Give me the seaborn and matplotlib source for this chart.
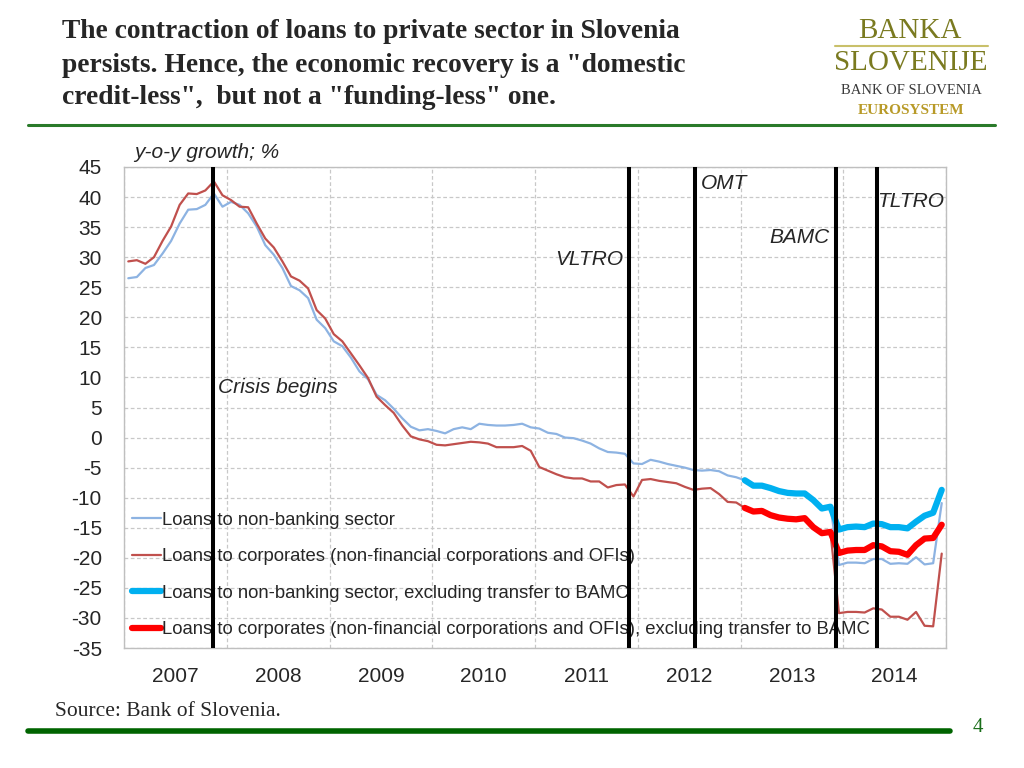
import numpy as np
import pandas as pd
import seaborn as sns
import matplotlib.pyplot as plt
from matplotlib.lines import Line2D

# y-o-y growth in %, monthly Jan 2007 - Dec 2014
months = pd.date_range("2007-01-01", "2014-12-01", freq="MS")
non_bank = [26.5, 26.7, 28.2, 28.7, 30.6, 32.7, 35.6, 37.9, 38.0, 38.7, 40.6, 38.4,
            39.2, 38.7, 37.3, 35.1, 32.0, 30.4, 28.2, 25.2, 24.5, 23.2, 19.6, 18.2,
            16.0, 15.2, 13.3, 11.0, 9.7, 7.1, 6.2, 4.8, 3.2, 1.8, 1.2, 1.4,
            1.1, 0.7, 1.4, 1.7, 1.4, 2.3, 2.1, 2.0, 2.0, 2.1, 2.3, 1.7,
            1.5, 0.8, 0.6, 0.0, -0.1, -0.5, -1.0, -1.8, -2.4, -2.5, -2.7, -4.3,
            -4.4, -3.7, -4.0, -4.4, -4.7, -5.0, -5.4, -5.5, -5.4, -5.6, -6.3, -6.6,
            -7.1, -8.0, -8.0, -8.4, -8.9, -9.2, -9.3, -9.3, -10.4, -11.8, -11.5, -21.2,
            -20.8, -20.8, -20.9, -20.2, -20.2, -21.0, -20.9, -21.0, -19.9, -21.1, -20.9, -10.9]
corporates = [29.3, 29.5, 28.9, 30.0, 32.7, 35.1, 38.7, 40.6, 40.5, 41.1, 42.6, 40.3,
              39.5, 38.4, 38.3, 35.6, 33.1, 31.6, 29.3, 26.8, 26.1, 24.8, 21.2, 19.8,
              17.2, 16.0, 14.0, 12.0, 9.9, 6.8, 5.4, 4.1, 2.0, 0.2, -0.3, -0.6,
              -1.2, -1.3, -1.1, -0.9, -0.7, -0.8, -1.0, -1.6, -1.6, -1.6, -1.4, -2.2,
              -4.9, -5.5, -6.1, -6.6, -6.8, -6.8, -7.3, -7.3, -8.3, -7.9, -7.8, -9.8,
              -7.05, -6.9, -7.2, -7.4, -7.6, -8.2, -8.7, -8.5, -8.4, -9.4, -10.7, -10.8,
              -11.7, -12.3, -12.2, -12.9, -13.3, -13.5, -13.6, -13.4, -14.9, -15.9, -15.7, -29.2,
              -29.0, -29.0, -29.1, -28.4, -28.6, -29.8, -29.8, -30.3, -29.0, -31.3, -31.4, -19.3]

# excluding transfer to BAMC, Jan 2013 - Dec 2014
months_ex = pd.date_range("2013-01-01", "2014-12-01", freq="MS")
non_bank_ex = [-7.1, -8.0, -8.0, -8.4, -8.9, -9.2, -9.3, -9.3, -10.4, -11.8, -11.5, -15.3,
               -14.9, -14.8, -14.9, -14.3, -14.4, -14.9, -14.9, -15.1, -14.0, -13.0, -12.5, -8.7]
corporates_ex = [-11.7, -12.3, -12.2, -12.9, -13.3, -13.5, -13.6, -13.4, -14.9, -15.9, -15.7, -19.2,
                 -18.8, -18.7, -18.7, -17.9, -18.1, -18.9, -19.0, -19.5, -17.9, -16.8, -16.7, -14.5]

labels = ["Loans to non-banking sector",
          "Loans to corporates (non-financial corporations and OFIs)",
          "Loans to non-banking sector, excluding transfer to BAMC",
          "Loans to corporates (non-financial corporations and OFIs), excluding transfer to BAMC"]

event_names = ["Crisis begins", "VLTRO", "OMT", "BAMC", "TLTRO"]
event_dates = [2007.87, 2011.91, 2012.56, 2013.93, 2014.33]

years = list(range(2007, 2015))


def dec_year(idx):
    return idx.year + (idx.month - 0.5) / 12


sns.set_style("white")
plt.rcParams['font.family'] = ['Liberation Sans', 'DejaVu Sans']
plt.rcParams['axes.unicode_minus'] = False

fig = plt.figure(figsize=(10.24, 7.68), dpi=100)
ax = fig.add_axes([124 / 1024, 1 - 648 / 768, 822 / 1024, 481 / 768])

x = dec_year(months)
x_ex = dec_year(months_ex)
sns.lineplot(x=x, y=non_bank, color="#8db3e2", lw=1.6, ax=ax, label=labels[0])
sns.lineplot(x=x, y=corporates, color="#c0504d", lw=1.6, ax=ax, label=labels[1])
sns.lineplot(x=x_ex, y=non_bank_ex, color="#00b0f0", lw=4.5, ax=ax, label=labels[2])
sns.lineplot(x=x_ex, y=corporates_ex, color="#ff0000", lw=4.5, ax=ax, label=labels[3])

for d in event_dates:
    ax.axvline(d, color="black", lw=2.9, zorder=6)

# event labels: (x, y, ha)
lab_pos = [(2007.915, 8.3, "left"), (2011.86, 29.6, "right"), (2012.61, 42.3, "left"),
           (2013.87, 33.2, "right"), (2014.33, 39.2, "left")]
for name, (tx, ty, ha) in zip(event_names, lab_pos):
    ax.text(tx, ty, name, ha=ha, va="center", fontsize=15, style="italic")

ax.set_xlim(2007, 2015)
ax.set_ylim(-35, 45)
ax.set_yticks(range(-35, 46, 5))
ax.set_xticks(range(2007, 2016))
ax.set_xticklabels([])
ax.set_xticks([y + 0.5 for y in years], minor=True)
ax.set_xticklabels([str(y) for y in years], minor=True)
ax.tick_params(axis="both", which="both", length=0, labelsize=15)
ax.tick_params(axis="y", pad=16)
ax.tick_params(axis="x", which="minor", pad=14)
ax.grid(True, which="major", ls=(0, (3, 2)), color="#c8c8c8", lw=0.9)
ax.set_xlabel("")
ax.set_ylabel("")
for s in ax.spines.values():
    s.set_color("#bfbfbf")
    s.set_linewidth(1.0)

fig.text(134 / 1024, 1 - 153 / 768, "y-o-y growth; %", fontsize=15, style="italic", va="center")

ax.legend(loc="upper left", bbox_to_anchor=(0.0097, 0.283), frameon=False, fontsize=13.3,
          handlelength=1.55, handletextpad=0.1, labelspacing=1.05, borderpad=0.0,
          borderaxespad=0.0)

# slide header
title_lines = ["The contraction of loans to private sector in Slovenia",
               "persists. Hence, the economic recovery is a \"domestic",
               "credit-less\",  but not a \"funding-less\" one."]
for i, line in enumerate(title_lines):
    fig.text(62 / 1024, 1 - (32 + 33 * i) / 768, line, fontsize=19.8, fontweight="bold",
             family="Liberation Serif", va="center", ha="left")

fig.text(910 / 1024, 1 - 31 / 768, "BANKA", fontsize=21, family="Liberation Serif",
         color="#7a7a20", ha="center", va="center")
fig.add_artist(Line2D([835 / 1024, 988 / 1024], [1 - 46 / 768, 1 - 46 / 768], color="#c9c06a", lw=1.5))
fig.text(911 / 1024, 1 - 63 / 768, "SLOVENIJE", fontsize=21, family="Liberation Serif",
         color="#7a7a20", ha="center", va="center")
fig.text(911 / 1024, 1 - 90 / 768, "BANK OF SLOVENIA", fontsize=10.5, family="Liberation Serif",
         color="#3a3a3a", ha="center", va="center")
fig.text(911 / 1024, 1 - 111 / 768, "EUROSYSTEM", fontsize=11, family="Liberation Serif",
         fontweight="bold", color="#b89a28", ha="center", va="center")

fig.add_artist(Line2D([28 / 1024, 995 / 1024], [1 - 125 / 768, 1 - 125 / 768], color="#2a7a2a", lw=2.2))
fig.add_artist(Line2D([28 / 1024, 950 / 1024], [1 - 731 / 768, 1 - 731 / 768], color="#006400", lw=4))

fig.text(55 / 1024, 1 - 711 / 768, "Source: Bank of Slovenia.", fontsize=15.5, family="Liberation Serif",
         va="center", ha="left")
fig.text(978 / 1024, 1 - 728 / 768, "4", fontsize=15, family="Liberation Serif", color="#1a6e1a",
         va="center", ha="center")

fig.savefig("out.png", dpi=100)
